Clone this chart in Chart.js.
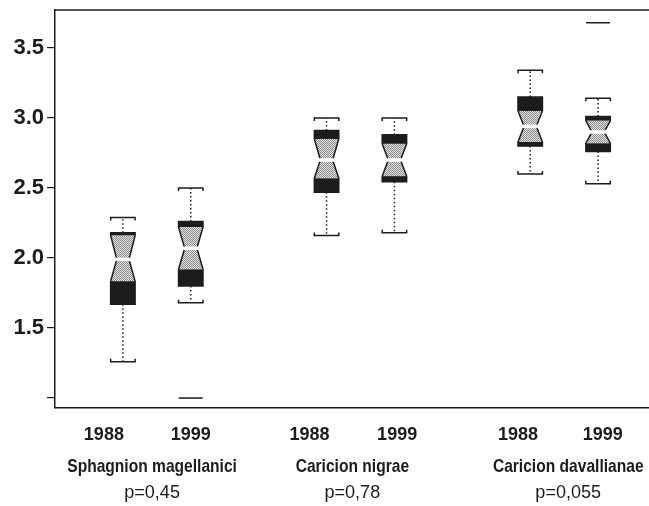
<!DOCTYPE html>
<html>
<head>
<meta charset="utf-8">
<script src="https://cdn.jsdelivr.net/npm/chart.js@4/dist/chart.umd.min.js"></script>
<style>
  html, body { margin: 0; padding: 0; background: #fff; overflow: hidden; }
  canvas { display: block; }
</style>
</head>
<body>
<canvas id="c" width="649" height="506"></canvas>
<script>
// groups and years
var groups = ['Sphagnion magellanici', 'Caricion nigrae', 'Caricion davallianae'];
var pValues = ['p=0,45', 'p=0,78', 'p=0,055'];
var years = ['1988', '1999', '1988', '1999', '1988', '1999'];

// box positions on the x scale
var boxX = [1, 2, 4, 5, 7, 8];
var yearTickX = [0.72, 2.0, 3.75, 5.04, 6.82, 8.07];
var groupX = [1.43, 4.38, 7.56];

// box statistics
var whiskerLow  = [1.26, 1.68, 2.16, 2.18, 2.60, 2.53];
var q1          = [1.67, 1.80, 2.47, 2.545, 2.80, 2.76];
var notchLow    = [1.835, 1.92, 2.57, 2.585, 2.83, 2.82];
var median      = [1.99, 2.07, 2.70, 2.70, 2.94, 2.90];
var notchHigh   = [2.16, 2.22, 2.85, 2.815, 3.05, 2.98];
var q3          = [2.18, 2.26, 2.91, 2.88, 3.15, 3.01];
var whiskerHigh = [2.29, 2.50, 3.00, 3.00, 3.34, 3.14];

// outliers
var outlierX = [2, 8];
var outlierY = [1.00, 3.68];

var yTicks = [1.0, 1.5, 2.0, 2.5, 3.0, 3.5];

var ink = '#1c1c1c';
var boldFont = '"Liberation Sans", Arial, sans-serif';

function stipple(ctx) {
    var p = document.createElement('canvas');
    p.width = 2; p.height = 2;
    var pc = p.getContext('2d');
    pc.fillStyle = '#e4e4e4'; pc.fillRect(0, 0, 2, 2);
    pc.fillStyle = '#8a8a8a';
    pc.fillRect(0, 0, 1, 1);
    pc.fillRect(1, 1, 1, 1);
    return ctx.createPattern(p, 'repeat');
}

// text squeezed sideways, the figure uses a narrow face
function narrowText(ctx, txt, x, y, squeeze) {
    ctx.save();
    ctx.translate(x, y);
    ctx.scale(squeeze, 1);
    ctx.fillText(txt, 0, 0);
    ctx.restore();
}

var boxPlugin = {
    id: 'notchedBoxes',
    beforeDatasetsDraw: function(chart) {
	var ctx = chart.ctx;
	var xs = chart.scales.x, ys = chart.scales.y;
	var area = chart.chartArea;
	var grey = stipple(ctx);
	var halfW = (xs.getPixelForValue(0.18) - xs.getPixelForValue(0));

	// frame top line
	ctx.save();
	ctx.strokeStyle = ink;
	ctx.lineWidth = 1.5;
	ctx.beginPath();
	ctx.moveTo(area.left, area.top);
	ctx.lineTo(area.right, area.top);
	ctx.stroke();
	ctx.restore();

	for (var i = 0; i < boxX.length; i++) {
	    var cx = xs.getPixelForValue(boxX[i]);
	    var l = cx - halfW, r = cx + halfW, inset = halfW * 0.5;
	    var yQ1 = ys.getPixelForValue(q1[i]);
	    var yQ3 = ys.getPixelForValue(q3[i]);
	    var yNL = ys.getPixelForValue(notchLow[i]);
	    var yNH = ys.getPixelForValue(notchHigh[i]);
	    var yMed = ys.getPixelForValue(median[i]);
	    var yWL = ys.getPixelForValue(whiskerLow[i]);
	    var yWH = ys.getPixelForValue(whiskerHigh[i]);

	    ctx.save();
	    // whiskers (dotted)
	    ctx.strokeStyle = ink;
	    ctx.lineWidth = 1.5;
	    ctx.setLineDash([1.5, 2.5]);
	    ctx.beginPath();
	    ctx.moveTo(cx, yQ3); ctx.lineTo(cx, yWH);
	    ctx.moveTo(cx, yQ1); ctx.lineTo(cx, yWL);
	    ctx.stroke();
	    ctx.setLineDash([]);

	    // caps
	    ctx.beginPath();
	    ctx.moveTo(l, yWH + 3); ctx.lineTo(l, yWH); ctx.lineTo(r, yWH); ctx.lineTo(r, yWH + 3);
	    ctx.moveTo(l, yWL - 3); ctx.lineTo(l, yWL); ctx.lineTo(r, yWL); ctx.lineTo(r, yWL - 3);
	    ctx.stroke();

	    // notched box outline
	    ctx.beginPath();
	    ctx.moveTo(l, yQ1);
	    ctx.lineTo(l, yNL);
	    ctx.lineTo(l + inset, yMed);
	    ctx.lineTo(l, yNH);
	    ctx.lineTo(l, yQ3);
	    ctx.lineTo(r, yQ3);
	    ctx.lineTo(r, yNH);
	    ctx.lineTo(r - inset, yMed);
	    ctx.lineTo(r, yNL);
	    ctx.lineTo(r, yQ1);
	    ctx.closePath();

	    ctx.save();
	    ctx.clip();
	    ctx.fillStyle = ink;
	    ctx.fillRect(l, yQ3, r - l, yNH - yQ3);
	    ctx.fillRect(l, yNL, r - l, yQ1 - yNL);
	    ctx.fillStyle = grey;
	    ctx.fillRect(l, yNH, r - l, yNL - yNH);
	    ctx.restore();

	    ctx.lineWidth = 1.5;
	    ctx.strokeStyle = ink;
	    ctx.stroke();

	    // median
	    ctx.strokeStyle = '#ffffff';
	    ctx.lineWidth = 3.5;
	    ctx.beginPath();
	    ctx.moveTo(l + inset - 2, yMed);
	    ctx.lineTo(r - inset + 2, yMed);
	    ctx.stroke();
	    ctx.restore();
	}
    },
    afterDraw: function(chart) {
	var ctx = chart.ctx;
	var xs = chart.scales.x;
	ctx.save();
	ctx.fillStyle = ink;
	ctx.textAlign = 'center';
	ctx.textBaseline = 'middle';
	for (var g = 0; g < groups.length; g++) {
	    var px = xs.getPixelForValue(groupX[g]);
	    ctx.font = 'bold 19px ' + boldFont;
	    narrowText(ctx, groups[g], px, 467, 0.82);
	    ctx.font = '19px ' + boldFont;
	    narrowText(ctx, pValues[g], px, 493, 0.95);
	}
	ctx.restore();
    }
};

var outlierData = outlierX.map(function(x, i) { return {x: x, y: outlierY[i]}; });

new Chart(document.getElementById('c'), {
    type: 'scatter',
    data: {
	datasets: [{
	    data: outlierData,
	    pointStyle: 'line',
	    radius: 12,
	    hoverRadius: 12,
	    borderColor: ink,
	    borderWidth: 1.5
	}]
    },
    options: {
	responsive: false,
	animation: false,
	layout: {autoPadding: false, padding: {top: 10, right: 0, left: 0, bottom: 0}},
	plugins: {legend: {display: false}, tooltip: {enabled: false}},
	scales: {
	    x: {
		type: 'linear',
		min: 0,
		max: 8.75,
		afterBuildTicks: function(scale) {
		    scale.ticks = yearTickX.map(function(v) { return {value: v}; });
		},
		afterFit: function(scale) {
		    scale.height = 98;
		    scale.paddingLeft = 0;
		    scale.paddingRight = 0;
		},
		grid: {display: false, drawTicks: false},
		border: {display: true, color: ink, width: 1.5},
		ticks: {
		    autoSkip: false,
		    maxRotation: 0,
		    padding: 16,
		    color: ink,
		    font: {family: boldFont, size: 18, weight: 'bold'},
		    callback: function(v, i) { return years[i]; }
		}
	    },
	    y: {
		min: 0.929,
		max: 3.771,
		afterBuildTicks: function(scale) {
		    scale.ticks = yTicks.map(function(v) { return {value: v}; });
		},
		afterFit: function(scale) {
		    scale.width = 55;
		    scale.paddingTop = 0;
		    scale.paddingBottom = 0;
		},
		grid: {drawOnChartArea: false, drawTicks: true, tickLength: 8, color: ink, lineWidth: 1.2},
		border: {display: true, color: ink, width: 1.5},
		ticks: {
		    padding: 3,
		    color: ink,
		    font: {family: boldFont, size: 22, weight: 'bold'},
		    callback: function(v) { return v === 1 ? '' : v.toFixed(1); }
		}
	    }
	}
    },
    plugins: [boxPlugin]
});
</script>
</body>
</html>
